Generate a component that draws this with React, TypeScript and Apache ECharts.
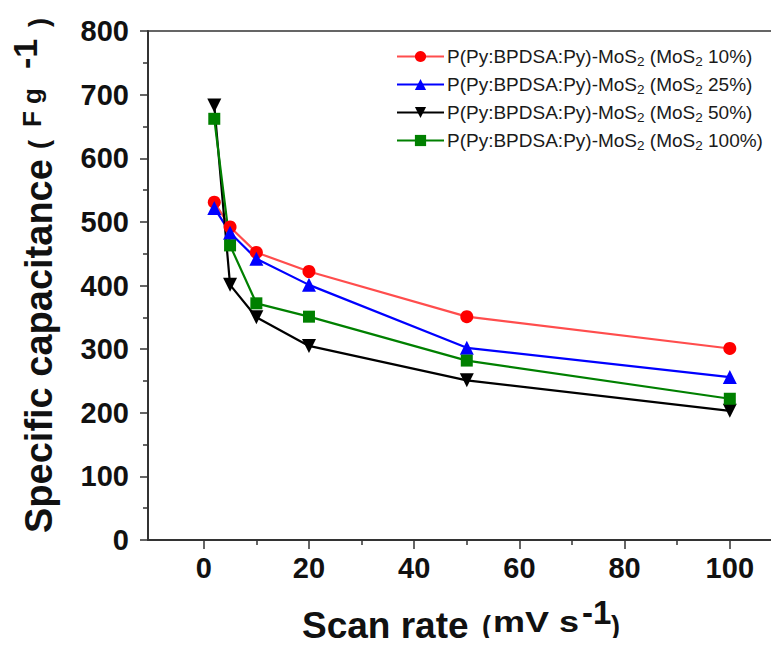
import React, { useEffect, useRef } from "react";
import * as echarts from "echarts";

const scanRates = [2, 5, 10, 20, 50, 100];
const mos10 = [531, 492, 452, 422, 351, 301];
const mos25 = [522, 483, 442, 401, 302, 256];
const mos50 = [683, 401, 350, 305, 251, 203];
const mos100 = [662, 463, 372, 351, 282, 222];
const seriesNames = ["MoS10", "MoS25", "MoS50", "MoS100"];
const seriesPct = ["10%", "25%", "50%", "100%"];
const xMajorTicks = [0, 20, 40, 60, 80, 100];
const xMinorTicks = [10, 30, 50, 70, 90];

const FONT = "Liberation Sans, Arial, sans-serif";

const txt = (text: string, x: number, y: number, size: number, extra: any = {}) => ({
  type: "text",
  x,
  y,
  ...extra,
  style: {
    text,
    fontFamily: FONT,
    fontWeight: "bold",
    fontSize: size,
    fill: "#111",
    align: "left",
    verticalAlign: "middle",
  },
});

export default function App() {
  const ref = useRef<HTMLDivElement>(null);
  useEffect(() => {
    const chart = echarts.init(ref.current!, null, { renderer: "svg" });
    const pct: Record<string, string> = {};
    seriesNames.forEach((n, i) => (pct[n] = seriesPct[i]));
    const mk = (name: string, vals: number[], lineColor: string, color: string, symbol: string, size: number, rot = 0) => ({
      name,
      type: "line",
      data: scanRates.map((x, i) => [x, vals[i]]),
      symbol,
      symbolSize: size,
      symbolRotate: rot,
      showAllSymbol: true,
      lineStyle: { color: lineColor, width: 2.2 },
      itemStyle: { color },
      xAxisIndex: 0,
      z: 3,
    });
    const axisLineStyle = { color: "#333", width: 2 };
    const R = Math.PI / 2;
    chart.setOption({
      animation: false,
      grid: {
        left: 148, right: 5, top: 31, bottom: 106,
        show: true, borderColor: "#333", borderWidth: 1.5,
        containLabel: false, outerBoundsMode: "none",
      },
      legend: {
        orient: "vertical",
        left: 391,
        top: 42,
        itemWidth: 47,
        itemHeight: 14,
        itemGap: 7,
        data: seriesNames,
        formatter: (n: string) => `{a|P(Py:BPDSA:Py)-MoS}{s|2}{a| (MoS}{s|2}{a| ${pct[n]})}`,
        textStyle: {
          padding: [0, 0, 0, -2],
          rich: {
            a: { fontFamily: FONT, fontSize: 19, color: "#1a1a1a" },
            s: { fontFamily: FONT, fontSize: 13.5, color: "#1a1a1a", verticalAlign: "bottom", padding: [9, 0, 0, 0] },
          },
        },
      },
      graphic: [
        txt("Scan rate", 302, 625, 37),
        txt("(", 482, 626, 27),
        txt("mV s", 493, 622, 30, { scaleX: 1.2 }),
        txt("-1", 582, 612, 33),
        txt(")", 611, 626, 27),
        txt("Specific capacitance", 39, 533, 38, { rotation: R }),
        txt("(", 39, 149, 27, { rotation: R }),
        txt("F g", 32, 127, 26, { rotation: R }),
        txt("-1", 25, 69, 34, { rotation: R }),
        txt(")", 39, 27, 27, { rotation: R }),
      ],
      xAxis: [
        {
          type: "value",
          min: -10.6,
          max: 108.4,
          splitLine: { show: false },
          axisLine: { lineStyle: axisLineStyle, onZero: false },
          axisTick: { show: true, length: 9, lineStyle: { color: "#333", width: 1.5 }, customValues: xMajorTicks },
          axisLabel: {
            customValues: xMajorTicks,
            fontFamily: FONT,
            fontWeight: "bold",
            fontSize: 29,
            color: "#111",
            margin: 13,
          },
        },
        {
          type: "value",
          min: -10.6,
          max: 108.4,
          position: "bottom",
          splitLine: { show: false },
          axisLine: { show: false, onZero: false },
          axisTick: { show: true, length: 5, lineStyle: { color: "#333", width: 1.5 }, customValues: xMinorTicks },
          axisLabel: { show: false },
        },
      ],
      yAxis: {
        type: "value",
        min: 0,
        max: 800,
        interval: 100,
        splitLine: { show: false },
        axisLine: { show: true, lineStyle: axisLineStyle, onZero: false },
        axisTick: { show: true, length: 8, lineStyle: { color: "#333", width: 1.5 } },
        minorTick: { show: true, splitNumber: 2, length: 5, lineStyle: { color: "#333", width: 1.5 } },
        axisLabel: { fontFamily: FONT, fontWeight: "bold", fontSize: 29, color: "#111", margin: 19 },
      },
      series: [
        mk("MoS10", mos10, "#ff4d4d", "#ff0000", "circle", 13),
        mk("MoS25", mos25, "#0000ff", "#0000ff", "triangle", 14),
        mk("MoS50", mos50, "#000000", "#000000", "triangle", 14, 180),
        mk("MoS100", mos100, "#008000", "#008000", "rect", 12),
      ],
    });
    return () => chart.dispose();
  }, []);
  return <div ref={ref} style={{ width: 779, height: 646, margin: -8 }} />;
}
